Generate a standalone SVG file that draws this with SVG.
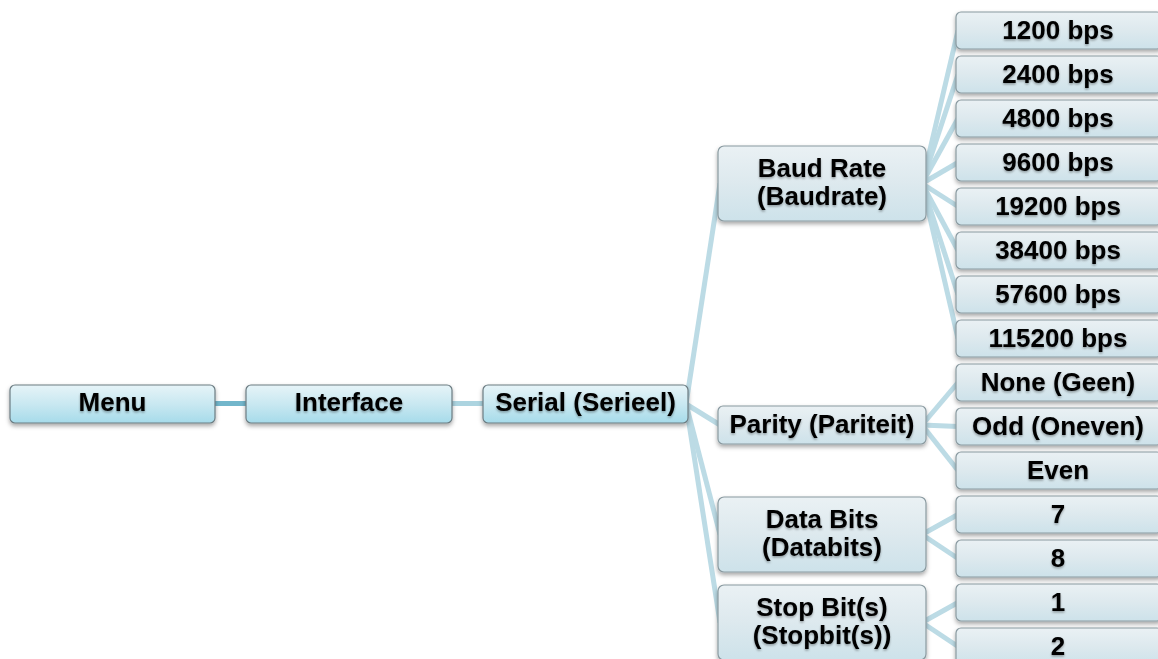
<svg xmlns="http://www.w3.org/2000/svg" width="1158" height="659" viewBox="0 0 1158 659">
<defs>
<linearGradient id="gTop" x1="0" y1="0" x2="0" y2="1">
<stop offset="0" stop-color="#e6f4f8"/>
<stop offset="0.5" stop-color="#c9e8f1"/>
<stop offset="1" stop-color="#a6dbea"/>
</linearGradient>
<linearGradient id="gSub" x1="0" y1="0" x2="0" y2="1">
<stop offset="0" stop-color="#eaf1f4"/>
<stop offset="0.5" stop-color="#dde9ee"/>
<stop offset="1" stop-color="#cde2ea"/>
</linearGradient>
<filter id="sh" x="-10%" y="-20%" width="120%" height="150%">
<feDropShadow dx="0" dy="2.5" stdDeviation="2" flood-color="#000" flood-opacity="0.35"/>
</filter>
<filter id="tsh" x="-10%" y="-30%" width="120%" height="160%">
<feDropShadow dx="0" dy="1.5" stdDeviation="1.2" flood-color="#000" flood-opacity="0.35"/>
</filter>
</defs>
<style>
.top{fill:url(#gTop);stroke:#6c7c82;stroke-width:1.2}
.sub{fill:url(#gSub);stroke:#8a9aa0;stroke-width:1.2}
.t{font-family:"Liberation Sans",Arial,sans-serif;font-weight:bold;font-size:26px;fill:#000;text-anchor:middle}
.c{stroke:#bcdbe5;stroke-width:5;fill:none;stroke-linecap:butt}
</style>
<rect width="1158" height="659" fill="#fff"/>
<g id="connectors">
<line x1="213" y1="403.5" x2="248" y2="403.5" stroke="#72b6cb" stroke-width="5"/>
<line x1="450" y1="403.5" x2="485" y2="403.5" stroke="#acd4e0" stroke-width="5"/>
<line class="c" x1="686" y1="404" x2="720" y2="183.5"/>
<line class="c" x1="686" y1="404" x2="720" y2="425"/>
<line class="c" x1="686" y1="404" x2="720" y2="534.5"/>
<line class="c" x1="686" y1="404" x2="720" y2="622.5"/>
<line class="c" x1="922" y1="183.5" x2="958" y2="30.5"/>
<line class="c" x1="922" y1="183.5" x2="958" y2="74.5"/>
<line class="c" x1="922" y1="183.5" x2="958" y2="118.5"/>
<line class="c" x1="922" y1="183.5" x2="958" y2="162.5"/>
<line class="c" x1="922" y1="183.5" x2="958" y2="206.5"/>
<line class="c" x1="922" y1="183.5" x2="958" y2="250.5"/>
<line class="c" x1="922" y1="183.5" x2="958" y2="294.5"/>
<line class="c" x1="922" y1="183.5" x2="958" y2="338.5"/>
<line class="c" x1="922" y1="425" x2="958" y2="382.5"/>
<line class="c" x1="922" y1="425" x2="958" y2="426.5"/>
<line class="c" x1="922" y1="425" x2="958" y2="470.5"/>
<line class="c" x1="922" y1="534.5" x2="958" y2="514.5"/>
<line class="c" x1="922" y1="534.5" x2="958" y2="558.5"/>
<line class="c" x1="922" y1="622.5" x2="958" y2="602.5"/>
<line class="c" x1="922" y1="622.5" x2="958" y2="646.5"/>
</g>
<g id="menu"><rect class="top" x="10" y="385" width="205" height="38" rx="5" filter="url(#sh)"/><text class="t" x="112.5" y="411" filter="url(#tsh)">Menu</text></g>
<g id="interface"><rect class="top" x="246" y="385" width="206" height="38" rx="5" filter="url(#sh)"/><text class="t" x="349" y="411" filter="url(#tsh)">Interface</text></g>
<g id="serial"><rect class="top" x="483" y="385" width="205" height="38" rx="5" filter="url(#sh)"/><text class="t" x="585.5" y="411" filter="url(#tsh)">Serial (Serieel)</text></g>
<g id="baud"><rect class="sub" x="718" y="146" width="208" height="75" rx="6" filter="url(#sh)"/><text class="t" x="822" y="177" filter="url(#tsh)">Baud Rate</text><text class="t" x="822" y="205" filter="url(#tsh)">(Baudrate)</text></g>
<g id="parity"><rect class="sub" x="718" y="406" width="208" height="38" rx="5" filter="url(#sh)"/><text class="t" x="822" y="433" filter="url(#tsh)">Parity (Pariteit)</text></g>
<g id="databits"><rect class="sub" x="718" y="497" width="208" height="75" rx="6" filter="url(#sh)"/><text class="t" x="822" y="528" filter="url(#tsh)">Data Bits</text><text class="t" x="822" y="556" filter="url(#tsh)">(Databits)</text></g>
<g id="stopbits"><rect class="sub" x="718" y="585" width="208" height="75" rx="6" filter="url(#sh)"/><text class="t" x="822" y="616" filter="url(#tsh)">Stop Bit(s)</text><text class="t" x="822" y="644" filter="url(#tsh)">(Stopbit(s))</text></g>
<g id="b1200"><rect class="sub" x="956" y="12" width="206" height="37" rx="5" filter="url(#sh)"/><text class="t" x="1058" y="39" filter="url(#tsh)">1200 bps</text></g>
<g id="b2400"><rect class="sub" x="956" y="56" width="206" height="37" rx="5" filter="url(#sh)"/><text class="t" x="1058" y="83" filter="url(#tsh)">2400 bps</text></g>
<g id="b4800"><rect class="sub" x="956" y="100" width="206" height="37" rx="5" filter="url(#sh)"/><text class="t" x="1058" y="127" filter="url(#tsh)">4800 bps</text></g>
<g id="b9600"><rect class="sub" x="956" y="144" width="206" height="37" rx="5" filter="url(#sh)"/><text class="t" x="1058" y="171" filter="url(#tsh)">9600 bps</text></g>
<g id="b19200"><rect class="sub" x="956" y="188" width="206" height="37" rx="5" filter="url(#sh)"/><text class="t" x="1058" y="215" filter="url(#tsh)">19200 bps</text></g>
<g id="b38400"><rect class="sub" x="956" y="232" width="206" height="37" rx="5" filter="url(#sh)"/><text class="t" x="1058" y="259" filter="url(#tsh)">38400 bps</text></g>
<g id="b57600"><rect class="sub" x="956" y="276" width="206" height="37" rx="5" filter="url(#sh)"/><text class="t" x="1058" y="303" filter="url(#tsh)">57600 bps</text></g>
<g id="b115200"><rect class="sub" x="956" y="320" width="206" height="37" rx="5" filter="url(#sh)"/><text class="t" x="1058" y="347" filter="url(#tsh)">115200 bps</text></g>
<g id="pnone"><rect class="sub" x="956" y="364" width="206" height="37" rx="5" filter="url(#sh)"/><text class="t" x="1058" y="391" filter="url(#tsh)">None (Geen)</text></g>
<g id="podd"><rect class="sub" x="956" y="408" width="206" height="37" rx="5" filter="url(#sh)"/><text class="t" x="1058" y="435" filter="url(#tsh)">Odd (Oneven)</text></g>
<g id="peven"><rect class="sub" x="956" y="452" width="206" height="37" rx="5" filter="url(#sh)"/><text class="t" x="1058" y="479" filter="url(#tsh)">Even</text></g>
<g id="d7"><rect class="sub" x="956" y="496" width="206" height="37" rx="5" filter="url(#sh)"/><text class="t" x="1058" y="523" filter="url(#tsh)">7</text></g>
<g id="d8"><rect class="sub" x="956" y="540" width="206" height="37" rx="5" filter="url(#sh)"/><text class="t" x="1058" y="567" filter="url(#tsh)">8</text></g>
<g id="s1"><rect class="sub" x="956" y="584" width="206" height="37" rx="5" filter="url(#sh)"/><text class="t" x="1058" y="611" filter="url(#tsh)">1</text></g>
<g id="s2"><rect class="sub" x="956" y="628" width="206" height="37" rx="5" filter="url(#sh)"/><text class="t" x="1058" y="655" filter="url(#tsh)">2</text></g>
</svg>
